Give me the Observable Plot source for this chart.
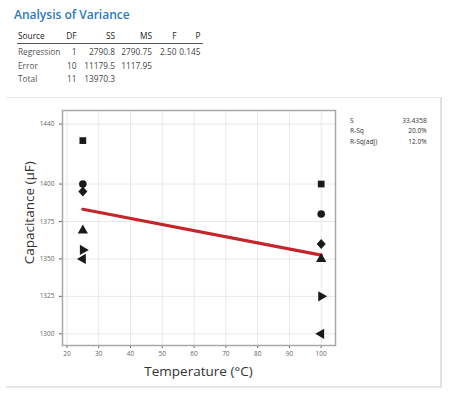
<!DOCTYPE html>
<html>
<head>
<meta charset="utf-8">
<script src="https://cdn.jsdelivr.net/npm/d3@7"></script>
<script src="https://cdn.jsdelivr.net/npm/@observablehq/plot@0.6"></script>
<style>
  body { margin:0; background:#fff; width:449px; height:395px; position:relative; overflow:hidden; font-family:"Open Sans", sans-serif; color:#333; }
  .abs { position:absolute; white-space:nowrap; line-height:1; }
</style>
</head>
<body>
<div id="root"></div>
<script>
// ---- ANOVA table ----
const anovaHeader = ["Source", "DF", "SS", "MS", "F", "P"];
const anovaSource = ["Regression", "Error", "Total"];
const anovaDF = ["1", "10", "11"];
const anovaSS = ["2790.8", "11179.5", "13970.3"];
const anovaMS = ["2790.75", "1117.95", ""];
const anovaF = ["2.50", "", ""];
const anovaP = ["0.145", "", ""];

// ---- model summary ----
const statLabels = ["S", "R-Sq", "R-Sq(adj)"];
const statValues = ["33.4358", "20.0%", "12.0%"];

// ---- chart data ----
const temperature = [25, 25, 25, 25, 25, 25, 100, 100, 100, 100, 100, 100];
const capacitance = [1429, 1400, 1395, 1369, 1356, 1350, 1400, 1380, 1360, 1350, 1325, 1300];
const marker = ["square", "circle", "diamond", "triangle", "right", "left",
                "square", "circle", "diamond", "triangle", "right", "left"];
const xTicks = [20, 30, 40, 50, 60, 70, 80, 90, 100];
const yTicks = [1300, 1325, 1350, 1375, 1400, 1440];
const xTitle = "Temperature (°C)";
const yTitle = "Capacitance (µF)";

const root = document.getElementById("root");
function put(text, left, baseline, fs, opts = {}) {
  const d = document.createElement("div");
  d.className = "abs";
  d.textContent = text;
  d.style.fontSize = fs + "px";
  const top = baseline - 0.888 * fs;
  d.style.top = top + "px";
  if (opts.right) { d.style.left = (left - 200) + "px"; d.style.width = "200px"; d.style.textAlign = "right"; }
  else if (opts.center) { d.style.left = (left - 150) + "px"; d.style.width = "300px"; d.style.textAlign = "center"; }
  else d.style.left = left + "px";
  if (opts.color) d.style.color = opts.color;
  if (opts.weight) d.style.fontWeight = opts.weight;
  root.appendChild(d);
  return d;
}

// title
put("Analysis of Variance", 14, 19.5, 12, {color: "#2b78be", weight: 600});

// table
const colRight = [null, 76.5, 115, 152, 176.5, 200.5];
const fsT = 8.3;
put(anovaHeader[0], 18, 39.5, fsT, {color:"#222"});
for (let j = 1; j < anovaHeader.length; j++) put(anovaHeader[j], colRight[j], 39.5, fsT, {right:true, color:"#222"});
const ul = document.createElement("div");
Object.assign(ul.style, {position:"absolute", left:"17px", top:"42.5px", width:"186px", height:"0", borderTop:"1px solid #555"});
root.appendChild(ul);
const rowBase = [55.5, 69, 82.5];
const cols = [anovaDF, anovaSS, anovaMS, anovaF, anovaP];
anovaSource.forEach((s, i) => {
  put(s, 18, rowBase[i], fsT, {color:"#555"});
  cols.forEach((c, j) => { if (c[i]) put(c[i], colRight[j + 1], rowBase[i], fsT, {right:true, color:"#444"}); });
});

// panel border
const panel = document.createElement("div");
Object.assign(panel.style, {position:"absolute", left:"6px", top:"97px", width:"434px", height:"288px",
  borderTop:"1px solid #e8e8e8", borderRight:"2px solid #e2e2e2", borderBottom:"2px solid #e6e6e6"});
root.appendChild(panel);

// stats
const statBase = [123.5, 134, 144.8];
statLabels.forEach((l, i) => {
  put(l, 350, statBase[i], 6.6, {color:"#333"});
  put(statValues[i], 426.7, statBase[i], 6.6, {right:true, color:"#333"});
});

// custom symbols
const s3 = Math.sqrt(3);
const triRight = { draw(ctx, size) { const y = -Math.sqrt(size / (s3 * 3));
  ctx.moveTo(-2 * y, 0); ctx.lineTo(y, -s3 * y); ctx.lineTo(y, s3 * y); ctx.closePath(); } };
const triLeft = { draw(ctx, size) { const y = -Math.sqrt(size / (s3 * 3));
  ctx.moveTo(2 * y, 0); ctx.lineTo(-y, -s3 * y); ctx.lineTo(-y, s3 * y); ctx.closePath(); } };
const diamond = { draw(ctx, size) { const a = Math.sqrt(size / 2) * 0.95, b = a * 1.1;
  ctx.moveTo(0, -b); ctx.lineTo(a, 0); ctx.lineTo(0, b); ctx.lineTo(-a, 0); ctx.closePath(); } };

const data = temperature.map((t, i) => ({t, c: capacitance[i], m: marker[i]}));

const chart = Plot.plot({
  width: 449, height: 300,
  marginLeft: 62, marginRight: 114, marginTop: 15, marginBottom: 50,
  style: {background: "none", fontFamily: "Open Sans, sans-serif", fontSize: "6.5px", color: "#666", overflow: "visible"},
  x: {domain: [18.6, 104.5], ticks: xTicks, tickSize: 3, tickPadding: 3, tickFormat: d => String(d), label: null},
  y: {domain: [1292.2, 1449.1], ticks: yTicks, tickSize: 3, tickPadding: 5, tickFormat: d => String(d), label: null},
  symbol: {domain: ["square", "circle", "diamond", "triangle", "right", "left"],
           range: [d3.symbolSquare, d3.symbolCircle, diamond, d3.symbolTriangle, triRight, triLeft]},
  marks: [
    Plot.ruleX(xTicks, {stroke: "#e8e8e8", strokeWidth: 1}),
    Plot.ruleY(yTicks, {stroke: "#e8e8e8", strokeWidth: 1}),
    Plot.frame({stroke: "#a8a8a8", strokeWidth: 1.5}),
    Plot.linearRegressionY(data, {x: "t", y: "c", stroke: "#c4262b", strokeWidth: 3.2, ci: 0}),
    Plot.dot(data, {x: "t", y: "c", symbol: "m", fill: "#1a1a1a", stroke: "none", r: 3.8})
  ]
});
chart.style.position = "absolute";
chart.style.left = "0px";
chart.style.top = "95px";
root.appendChild(chart);

// axis titles
put(xTitle, 198.5, 376.5, 13.5, {center:true, color:"#333", weight: 500});
const yt = document.createElement("div");
yt.className = "abs";
yt.textContent = yTitle;
Object.assign(yt.style, {fontSize:"13.5px", fontWeight: 500, color:"#333", width:"200px", textAlign:"center",
  left:(30.3 - 100) + "px", top:(213 - 6.75) + "px", height:"13.5px", transform:"rotate(-90deg)", transformOrigin:"50% 50%"});
root.appendChild(yt);
</script>
</body>
</html>
